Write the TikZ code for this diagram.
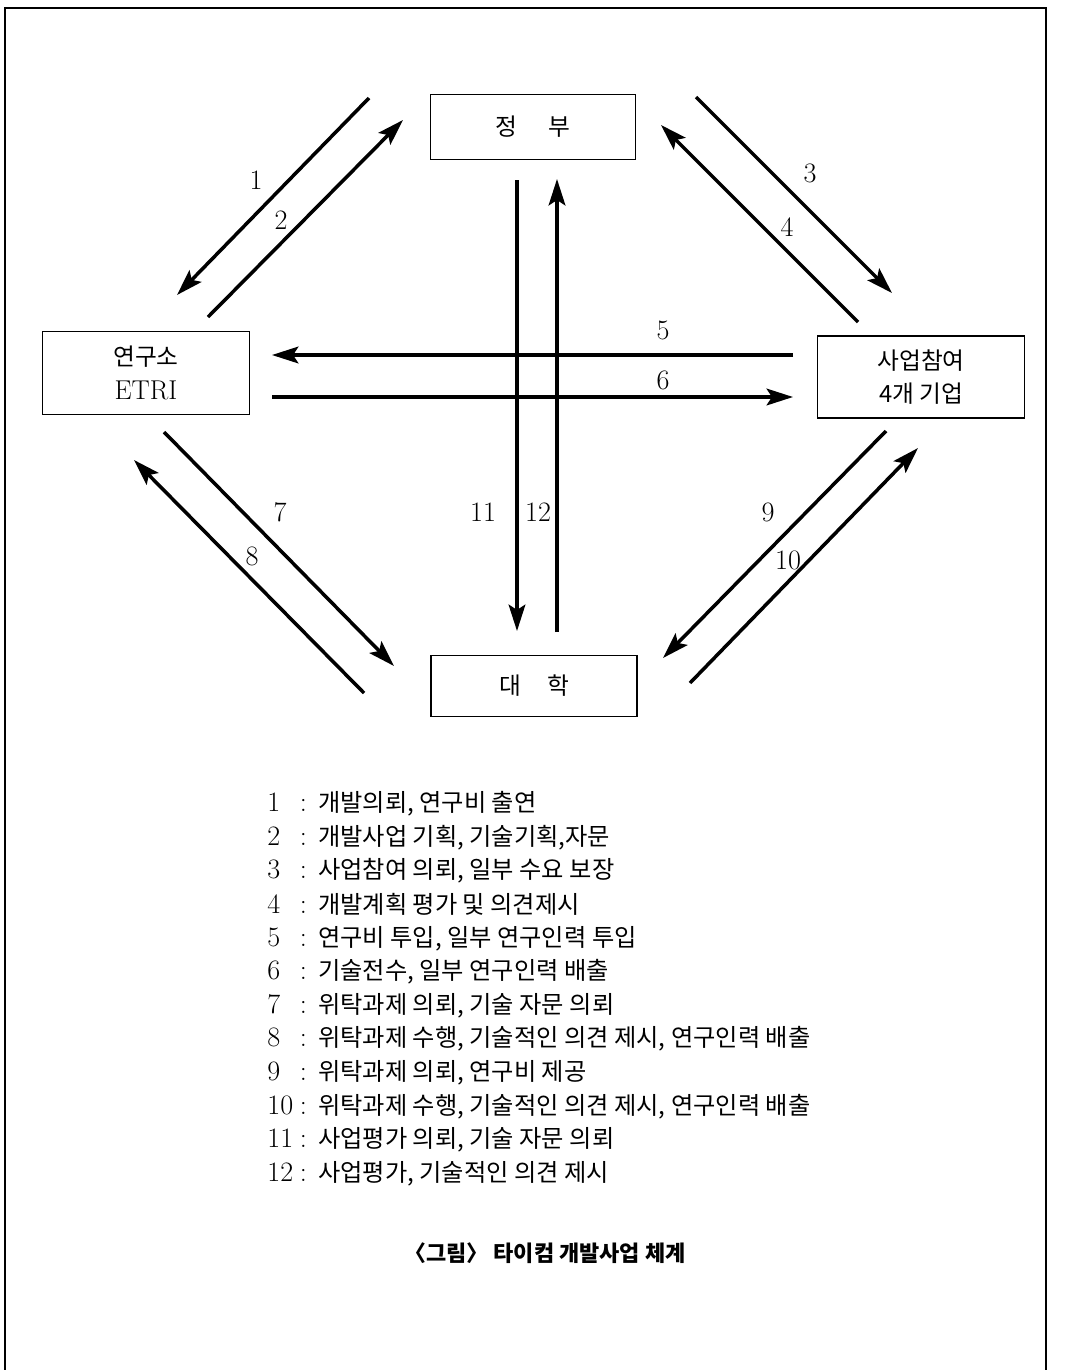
\documentclass[tikz,border=0pt]{standalone}
\usepackage{fontspec}
\newfontfamily\kr{Noto Sans CJK KR}
\usetikzlibrary{arrows.meta}

\begin{document}
\begin{tikzpicture}[x=0.02cm, y=-0.02cm,
    box/.style={draw, line width=0.8pt, align=center, inner sep=0pt,
        font=\kr\fontsize{13.5}{19}\selectfont},
    flow/.style={-{Stealth[length=15pt, width=9.5pt, inset=3pt]}, line width=2pt},
    num/.style={font=\fontsize{16}{18}\selectfont},
    legend/.style={anchor=west, inner sep=0pt, font=\fontsize{16}{18}\selectfont}]
    \useasboundingbox (0,0) rectangle (1065,1370);
    \draw[line width=1pt] (5,1370) -- (5,8) -- (1046,8) -- (1046,1370);  % page frame

    % the four partners
    \node[box, minimum width=4.1cm, minimum height=1.3cm] (gov) at (533,127) {정\hspace{18pt}부};
    \node[box, minimum width=4.14cm, minimum height=1.66cm] (etri) at (146,373) {연구소\\{\rmfamily\fontsize{15.5}{19}\selectfont ETRI}};
    \node[box, minimum width=4.14cm, minimum height=1.64cm] (firm) at (921,377) {사업참여\\4개 기업};
    \node[box, minimum width=4.12cm, minimum height=1.22cm] (univ) at (534,686) {대\hspace{15pt}학};

    % arrow ends
    \coordinate (s1) at (369,98);   \coordinate (e1) at (177,295);
    \coordinate (s2) at (208,317);  \coordinate (e2) at (403,120);
    \coordinate (s3) at (696,97);   \coordinate (e3) at (892,293);
    \coordinate (s4) at (858,322);  \coordinate (e4) at (661,125);
    \coordinate (s5) at (793,355);  \coordinate (e5) at (272,355);
    \coordinate (s6) at (272,397);  \coordinate (e6) at (793,397);
    \coordinate (s7) at (164,432);  \coordinate (e7) at (394,666);
    \coordinate (s8) at (364,693);  \coordinate (e8) at (134,460);
    \coordinate (s9) at (886,431);  \coordinate (e9) at (663,658);
    \coordinate (s10) at (690,683); \coordinate (e10) at (918,448);
    \coordinate (s11) at (517,180); \coordinate (e11) at (517,631);
    \coordinate (s12) at (557,632); \coordinate (e12) at (557,179);

    \draw[flow] (s1) -- (e1);
    \draw[flow] (s2) -- (e2);
    \draw[flow] (s3) -- (e3);
    \draw[flow] (s4) -- (e4);
    \draw[flow] (s5) -- (e5);
    \draw[flow] (s6) -- (e6);
    \draw[flow] (s7) -- (e7);
    \draw[flow] (s8) -- (e8);
    \draw[flow] (s9) -- (e9);
    \draw[flow] (s10) -- (e10);
    \draw[flow] (s11) -- (e11);
    \draw[flow] (s12) -- (e12);

    % arrow numbers
    \node[num] (n1) at (256,180) {1};
    \node[num] (n2) at (281,220) {2};
    \node[num] (n3) at (810,173) {3};
    \node[num] (n4) at (787,227) {4};
    \node[num] (n5) at (663,330) {5};
    \node[num] (n6) at (663,380) {6};
    \node[num] (n7) at (280,512) {7};
    \node[num] (n8) at (252,556) {8};
    \node[num] (n9) at (768,512) {9};
    \node[num] (n10) at (788,560) {10};
    \node[num] (n11) at (483,512) {11};
    \node[num] (n12) at (538,512) {12};

    % legend
    \node[legend] (l1) at (267,804) {\makebox[18.5pt][l]{1}: {\kr\fontsize{13.8}{18}\selectfont 개발의뢰, 연구비 출연}};
    \node[legend] (l2) at (267,837.6) {\makebox[18.5pt][l]{2}: {\kr\fontsize{13.8}{18}\selectfont 개발사업 기획, 기술기획,자문}};
    \node[legend] (l3) at (267,871.2) {\makebox[18.5pt][l]{3}: {\kr\fontsize{13.8}{18}\selectfont 사업참여 의뢰, 일부 수요 보장}};
    \node[legend] (l4) at (267,904.8) {\makebox[18.5pt][l]{4}: {\kr\fontsize{13.8}{18}\selectfont 개발계획 평가 및 의견제시}};
    \node[legend] (l5) at (267,938.4) {\makebox[18.5pt][l]{5}: {\kr\fontsize{13.8}{18}\selectfont 연구비 투입, 일부 연구인력 투입}};
    \node[legend] (l6) at (267,972) {\makebox[18.5pt][l]{6}: {\kr\fontsize{13.8}{18}\selectfont 기술전수, 일부 연구인력 배출}};
    \node[legend] (l7) at (267,1005.6) {\makebox[18.5pt][l]{7}: {\kr\fontsize{13.8}{18}\selectfont 위탁과제 의뢰, 기술 자문 의뢰}};
    \node[legend] (l8) at (267,1039.2) {\makebox[18.5pt][l]{8}: {\kr\fontsize{13.8}{18}\selectfont 위탁과제 수행, 기술적인 의견 제시, 연구인력 배출}};
    \node[legend] (l9) at (267,1072.8) {\makebox[18.5pt][l]{9}: {\kr\fontsize{13.8}{18}\selectfont 위탁과제 의뢰, 연구비 제공}};
    \node[legend] (l10) at (267,1106.4) {\makebox[18.5pt][l]{10}: {\kr\fontsize{13.8}{18}\selectfont 위탁과제 수행, 기술적인 의견 제시, 연구인력 배출}};
    \node[legend] (l11) at (267,1140) {\makebox[18.5pt][l]{11}: {\kr\fontsize{13.8}{18}\selectfont 사업평가 의뢰, 기술 자문 의뢰}};
    \node[legend] (l12) at (267,1173.6) {\makebox[18.5pt][l]{12}: {\kr\fontsize{13.8}{18}\selectfont 사업평가, 기술적인 의견 제시}};

    \node[font=\kr\bfseries\fontsize{12.5}{15}\selectfont] (cap) at (545,1253) {〈그림〉 타이컴 개발사업 체계};
\end{tikzpicture}
\end{document}
